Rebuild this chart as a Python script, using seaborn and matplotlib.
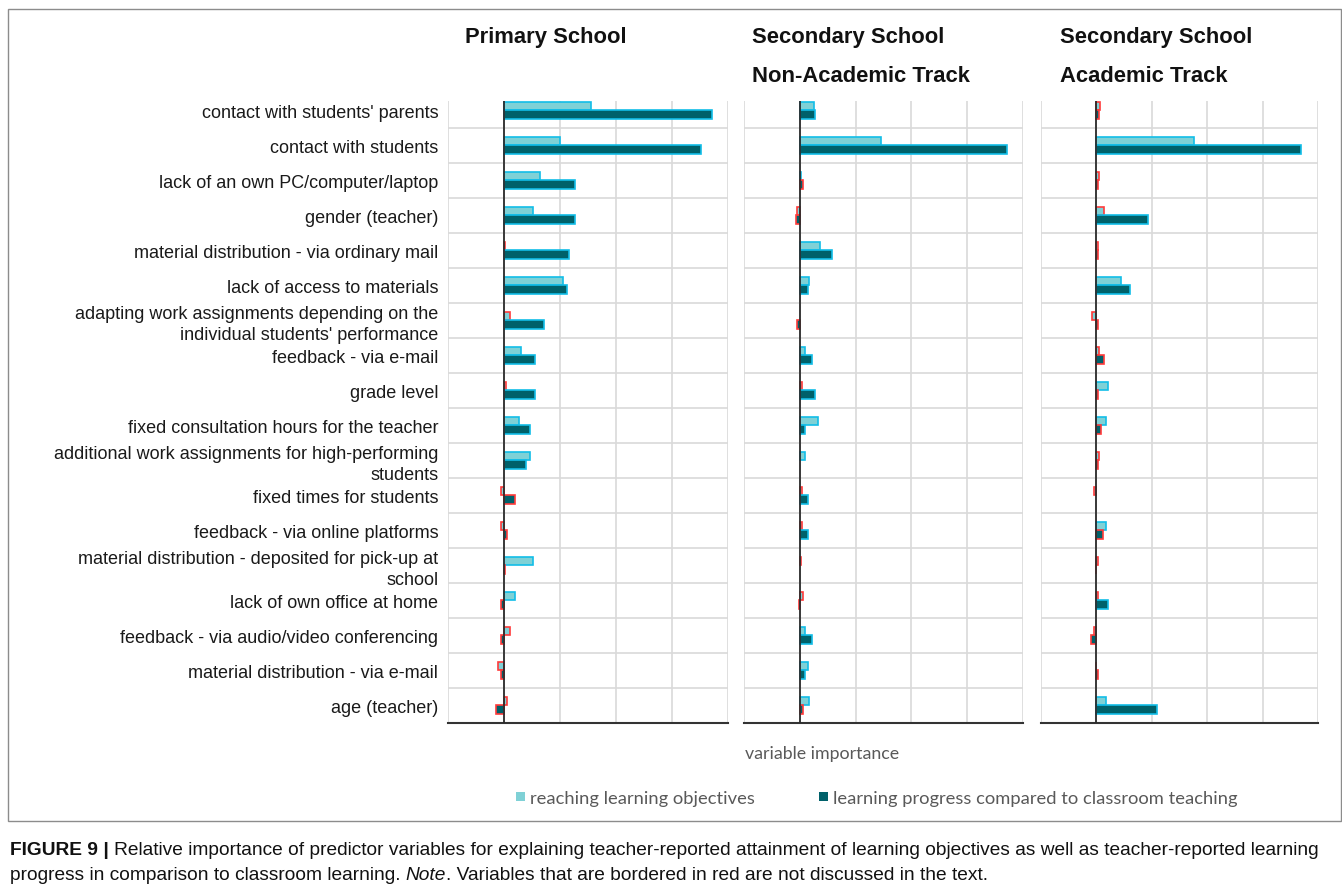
import numpy as np
import pandas as pd
import matplotlib
matplotlib.use("Agg")
import matplotlib.pyplot as plt
import seaborn as sns
from matplotlib.patches import Rectangle, Patch

# predictor variables (top to bottom)
variables = [
    "contact with students' parents",
    "contact with students",
    "lack of an own PC/computer/laptop",
    "gender (teacher)",
    "material distribution - via ordinary mail",
    "lack of access to materials",
    "adapting work assignments depending on the\nindividual students' performance",
    "feedback - via e-mail",
    "grade level",
    "fixed consultation hours for the teacher",
    "additional work assignments for high-performing\nstudents",
    "fixed times for students",
    "feedback - via online platforms",
    "material distribution - deposited for pick-up at\nschool",
    "lack of own office at home",
    "feedback - via audio/video conferencing",
    "material distribution - via e-mail",
    "age (teacher)",
]
outcomes = ["reaching learning objectives",
            "learning progress compared to classroom teaching"]
panels = ["Primary School",
          "Secondary School\nNon-Academic Track",
          "Secondary School\nAcademic Track"]

# variable importance (grid units)
primary_obj = [1.56, 1.00, 0.65, 0.51, 0.02, 1.05, 0.10, 0.30, 0.03, 0.26, 0.46, -0.05, -0.05, 0.51, 0.20, 0.10, -0.10, 0.05]
primary_prog = [3.71, 3.51, 1.26, 1.26, 1.16, 1.12, 0.71, 0.56, 0.56, 0.46, 0.40, 0.20, 0.05, 0.02, -0.05, -0.05, -0.05, -0.15]
nonacad_obj = [0.26, 1.45, 0.03, -0.05, 0.36, 0.17, 0.0, 0.09, 0.04, 0.32, 0.09, 0.04, 0.04, 0.03, 0.05, 0.10, 0.15, 0.17]
nonacad_prog = [0.27, 3.71, 0.06, -0.07, 0.58, 0.14, -0.05, 0.22, 0.27, 0.10, 0.0, 0.15, 0.15, 0.0, -0.02, 0.22, 0.10, 0.05]
acad_obj = [0.07, 1.76, 0.05, 0.13, 0.02, 0.45, -0.08, 0.05, 0.21, 0.18, 0.05, -0.04, 0.18, 0.03, 0.03, -0.04, -0.01, 0.18]
acad_prog = [0.04, 3.70, 0.03, 0.93, 0.03, 0.60, 0.03, 0.14, 0.03, 0.09, 0.03, 0.0, 0.12, -0.01, 0.21, -0.09, 0.03, 1.10]

# 1 = bordered in red (not discussed in the text)
primary_obj_red = [0, 0, 0, 0, 1, 0, 1, 0, 1, 0, 0, 1, 1, 0, 0, 1, 1, 1]
primary_prog_red = [0, 0, 0, 0, 0, 0, 0, 0, 0, 0, 0, 1, 1, 1, 1, 1, 1, 1]
nonacad_obj_red = [0, 0, 0, 1, 0, 0, 0, 0, 1, 0, 0, 1, 1, 1, 1, 0, 0, 0]
nonacad_prog_red = [0, 0, 1, 1, 0, 0, 1, 0, 0, 0, 0, 0, 0, 0, 1, 0, 0, 1]
acad_obj_red = [1, 0, 1, 1, 1, 0, 1, 1, 0, 0, 1, 1, 0, 1, 1, 1, 1, 0]
acad_prog_red = [1, 0, 1, 0, 1, 0, 1, 1, 1, 1, 1, 1, 1, 1, 0, 1, 1, 0]

panel_values = [(primary_obj, primary_prog), (nonacad_obj, nonacad_prog), (acad_obj, acad_prog)]
panel_red = [(primary_obj_red, primary_prog_red), (nonacad_obj_red, nonacad_prog_red),
             (acad_obj_red, acad_prog_red)]

light = "#7fd1d6"
dark = "#00616a"
cyan_edge = "#12bde8"
red_edge = "#ff3b3b"
grid_col = "#d9d9d9"
text_grey = "#595959"

sns.set_style("white")
plt.rcParams["font.family"] = ["Liberation Sans", "DejaVu Sans"]

W, H = 1342, 895
fig = plt.figure(figsize=(W / 100, H / 100), dpi=100)


def fx(x):
    return x / W


def fy(y):
    return 1 - y / H


panel_x = [(448, 728), (744, 1023), (1041, 1318)]
top, bottom = 102, 724

for i, (x0, x1) in enumerate(panel_x):
    ax = fig.add_axes([fx(x0), fy(bottom), (x1 - x0) / W, (bottom - top) / H])
    obj, prog = panel_values[i]
    df = pd.DataFrame({
        "variable": variables * 2,
        "importance": obj + prog,
        "outcome": [outcomes[0]] * len(variables) + [outcomes[1]] * len(variables),
    })
    sns.barplot(data=df, x="importance", y="variable", hue="outcome", order=variables,
                hue_order=outcomes, palette=[light, dark], saturation=1, orient="h",
                width=0.5, legend=False, ax=ax, zorder=3)
    # border colours per bar
    for k, cont in enumerate(ax.containers):
        vals = panel_values[i][k]
        reds = panel_red[i][k]
        for bar in cont:
            idx = int(round(bar.get_y() + bar.get_height() / 2))
            if vals[idx] == 0:
                bar.set_edgecolor("none")
            else:
                bar.set_edgecolor(red_edge if reds[idx] else cyan_edge)
            bar.set_linewidth(1.2)

    ax.set_xlim(-1, 4)
    ax.set_ylim(17.5, -0.27)
    ax.set_xticks([-1, 0, 1, 2, 3, 4])
    ax.set_xticklabels([])
    ax.set_yticks(np.arange(0.5, 17, 1), minor=True)
    ax.grid(axis="x", color=grid_col, lw=1.2, zorder=0)
    ax.grid(axis="y", which="minor", color=grid_col, lw=1.2, zorder=0)
    ax.grid(axis="y", which="major", visible=False)
    ax.axvline(0, color="#2b2b2b", lw=1.3, zorder=4)
    ax.set_xlabel("")
    ax.set_ylabel("")
    ax.tick_params(axis="both", which="both", length=0)
    for s in ["top", "right", "left"]:
        ax.spines[s].set_visible(False)
    ax.spines["bottom"].set_color("#333333")
    ax.spines["bottom"].set_linewidth(1.5)
    if i == 0:
        ax.set_yticks(range(len(variables)))
        ax.set_yticklabels(variables, fontsize=13, color="#1a1a1a", linespacing=1.3)
        ax.tick_params(axis="y", pad=7)
    else:
        ax.set_yticklabels([])

# panel headers
header_x = [465, 752, 1060]
for hx, title in zip(header_x, panels):
    for j, line in enumerate(title.split("\n")):
        fig.text(fx(hx), fy(37 + 39 * j), line, fontsize=15.8, fontweight="bold",
                 ha="left", va="center", color="#111111")

# axis title and legend
fig.text(fx(822), fy(754), "variable importance", fontsize=12.8, color=text_grey,
         ha="center", va="center", family=["Lato", "DejaVu Sans"])
handles = [Patch(facecolor=light, edgecolor="none"), Patch(facecolor=dark, edgecolor="none")]
fig.legend(handles, outcomes, loc="center", bbox_to_anchor=(fx(877), fy(799)), ncol=2,
           frameon=False, handlelength=0.45, handleheight=0.45, handletextpad=0.3,
           columnspacing=3.5, labelcolor=text_grey,
           prop={"family": ["Lato", "DejaVu Sans"], "size": 13.2})

# outer frame
fig.add_artist(Rectangle((fx(8), fy(822)), (1341 - 8) / W, (822 - 10) / H,
                         transform=fig.transFigure, fill=False, ec="#8c8c8c", lw=1))

# caption with mixed styles
cap_font = ["Liberation Sans", "DejaVu Sans"]
renderer = fig.canvas.get_renderer()


def text_width(t):
    return t.get_window_extent(renderer=renderer).width


def put_runs(y, runs, size):
    probe1 = fig.text(0, 0, "a a", fontsize=size, family=cap_font)
    probe2 = fig.text(0, 0, "aa", fontsize=size, family=cap_font)
    space_w = text_width(probe1) - text_width(probe2)
    probe1.remove()
    probe2.remove()
    x = 10
    placed = []
    for k, (s, style) in enumerate(runs):
        kw = dict(fontsize=size, family=cap_font, color="#111111", ha="left", va="center")
        if style == "bold":
            kw["fontweight"] = "bold"
        elif style == "italic":
            kw["fontstyle"] = "italic"
        t = fig.text(fx(x), fy(y), s, **kw)
        placed.append(t)
        x += text_width(t)
        if k < len(runs) - 1 and not runs[k + 1][0].startswith("."):
            x += space_w
    return placed, x


line1 = [("FIGURE 9 |", "bold"),
         ("Relative importance of predictor variables for explaining teacher-reported attainment of "
          "learning objectives as well as teacher-reported learning", "normal")]
line2 = [("progress in comparison to classroom learning.", "normal"), ("Note", "italic"),
         (". Variables that are bordered in red are not discussed in the text.", "normal")]

# fit the first caption line to the width it takes in the figure
placed, end_x = put_runs(851, line1, 13)
for t in placed:
    t.remove()
cap_size = 13 * (1322 - 10) / (end_x - 10)
put_runs(851, line1, cap_size)
put_runs(876, line2, cap_size)

fig.savefig("out.png", dpi=100)
